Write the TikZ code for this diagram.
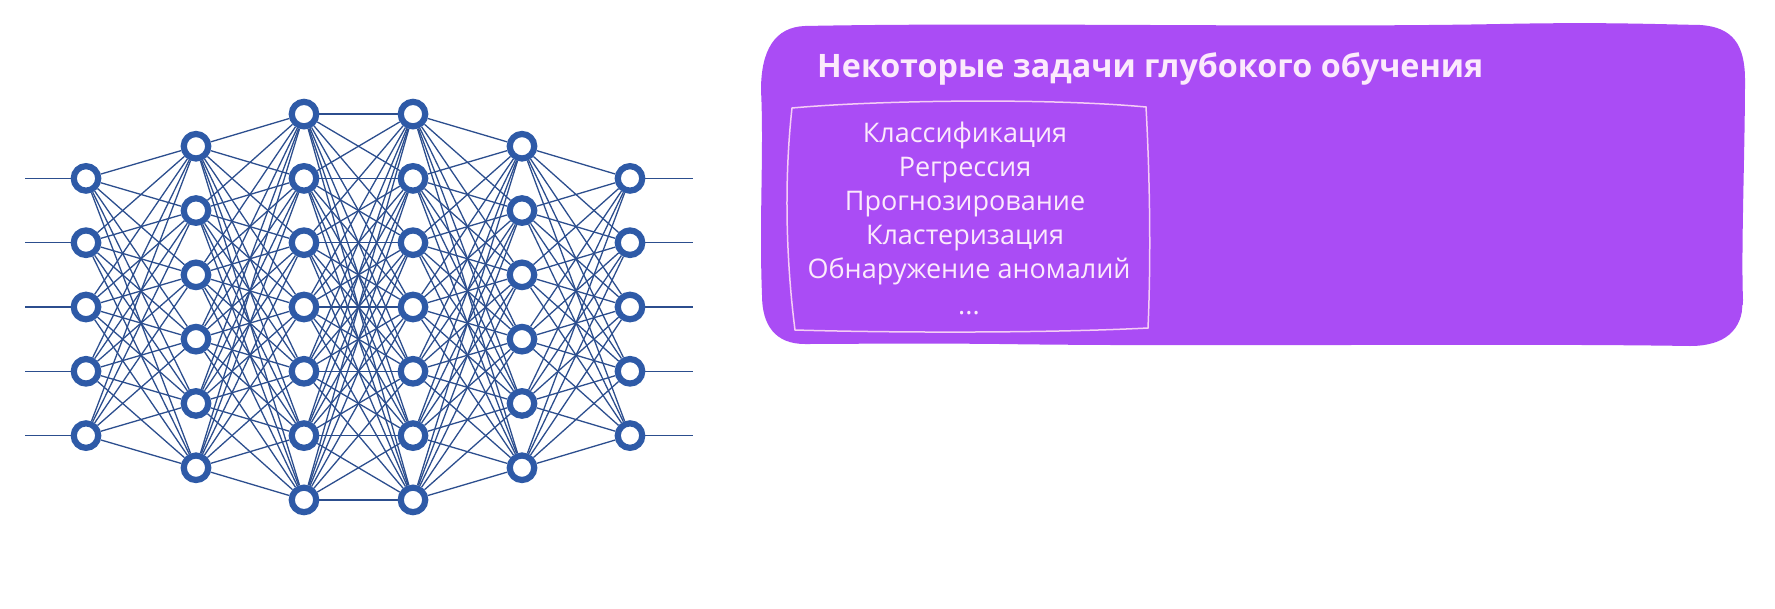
\documentclass[tikz,border=0pt]{standalone}
\usepackage{fontspec}
\setmainfont{Open Sans}
\pgfdeclarelayer{bg}
\pgfsetlayers{bg,main}
\definecolor{nodeblue}{HTML}{2E5AA7}
\definecolor{edgeblue}{HTML}{2C4E8E}
\definecolor{boxpurple}{HTML}{AA4CF5}
\definecolor{textpink}{HTML}{FCEAFC}
\definecolor{framepink}{HTML}{F6CDF6}
\begin{document}
\begin{tikzpicture}[x=1pt,y=-1pt,
  neuron/.style={circle, draw=nodeblue, line width=6.2pt, fill=white, minimum size=24.5pt, inner sep=0pt},
  link/.style={draw=edgeblue, line width=1.3pt},
  itemtext/.style={text=textpink, font=\fontsize{27}{32}\selectfont, anchor=base, inner sep=0pt},
  titletext/.style={text=textpink, font=\fontsize{32.3}{40}\selectfont\bfseries, anchor=base west, inner sep=0pt}]
\useasboundingbox (0,0) rectangle (1775,608);

% neurons
\foreach \l/\x/\n in {1/86/5,2/196/6,3/304/7,4/413/7,5/522/6,6/630/5} {
  \foreach \i in {1,...,\n} {
    \node[neuron] (n\l-\i) at (\x, {307+(\i-(\n+1)/2)*64.3}) {};
  }
}
\begin{pgfonlayer}{bg}
\fill[white] (0,0) rectangle (1775,608);
\foreach \a/\b/\na/\nb in {1/2/5/6, 2/3/6/7, 3/4/7/7, 4/5/7/6, 5/6/6/5} {
  \foreach \i in {1,...,\na} {
    \foreach \j in {1,...,\nb} {
      \draw[link] (n\a-\i) -- (n\b-\j);
    }
  }
}
\foreach \i in {1,...,5} {
  \coordinate (in\i) at (25, {307+(\i-3)*64.3});
  \coordinate (out\i) at (693, {307+(\i-3)*64.3});
  \draw[link] (in\i) -- (n1-\i);
  \draw[link] (n6-\i) -- (out\i);
}
\end{pgfonlayer}

% purple panel
\fill[boxpurple] (805,26) .. controls (1000,22) and (1300,28) .. (1500,24)
  .. controls (1600,22) and (1650,24) .. (1700,25)
  .. controls (1733,27) and (1745,45) .. (1745,80)
  .. controls (1745,150) and (1741,250) .. (1743,300)
  .. controls (1743,330) and (1725,346) .. (1690,346)
  .. controls (1500,343) and (1200,347) .. (1000,344)
  .. controls (900,343) and (850,344) .. (805,344)
  .. controls (775,344) and (762,325) .. (762,295)
  .. controls (759,220) and (764,150) .. (761,90)
  .. controls (761,50) and (775,27) .. (805,26) -- cycle;
\draw[white, line width=1.2pt] (1743,305) .. controls (1743,333) and (1727,349) .. (1690,349)
  .. controls (1500,346) and (1300,349) .. (1100,347);

% inner frame
\draw[framepink, line width=1.5pt] (792,108) .. controls (880,100) and (1050,98) .. (1146,107)
  .. controls (1150,180) and (1151,260) .. (1148,328)
  .. controls (1050,333) and (900,333) .. (795,330)
  .. controls (786,260) and (784,180) .. (792,108) -- cycle;

\node[titletext] (title) at (817,77) {Некоторые задачи глубокого обучения};
\node[itemtext] (t1) at (965,142) {Классификация};
\node[itemtext] (t2) at (965,176) {Регрессия};
\node[itemtext] (t3) at (965,210) {Прогнозирование};
\node[itemtext] (t4) at (965,244) {Кластеризация};
\node[itemtext] (t5) at (969,278) {Обнаружение аномалий};
\node[itemtext] (t6) at (969,314) {...};
\end{tikzpicture}
\end{document}
